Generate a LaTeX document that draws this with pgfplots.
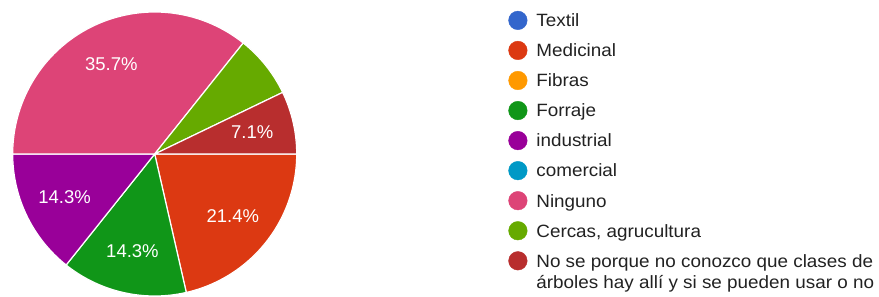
\documentclass[border=0pt]{standalone}
\usepackage{fontspec}
\setmainfont{Liberation Sans}
\newfontfamily\legfam[FakeStretch=1.06]{Liberation Sans}
\usepackage{pgfplots}
\usepackage{pgfplotstable}
\pgfplotsset{compat=1.18}
\definecolor{cTex}{HTML}{3366CC}
\definecolor{cMed}{HTML}{DC3912}
\definecolor{cFib}{HTML}{FF9900}
\definecolor{cFor}{HTML}{109618}
\definecolor{cInd}{HTML}{990099}
\definecolor{cCom}{HTML}{0099C6}
\definecolor{cNin}{HTML}{DD4477}
\definecolor{cCer}{HTML}{66AA00}
\definecolor{cNos}{HTML}{B82E2E}
\definecolor{txt}{HTML}{222222}

% slices in drawing order (clockwise from 3 o'clock)
\pgfplotstableread[col sep=comma]{
label,count,pct,show,color
Medicinal,3,21.4,1,cMed
Forraje,2,14.3,1,cFor
industrial,2,14.3,1,cInd
Ninguno,5,35.7,1,cNin
Cercas,1,7.1,0,cCer
Nose,1,7.1,1,cNos
}\piedata

\def\total{14}
\def\cx{154.7}
\def\cy{143}
\def\R{142}
\def\lr{100}
\newcommand\labelfont{\fontsize{18.5}{20}\selectfont}
\newcommand\legfont{\legfam\fontsize{17.8}{21.5}\selectfont}

\begin{document}
\begin{tikzpicture}
\begin{axis}[
  width=879pt, height=297pt, scale only axis,
  xmin=0, xmax=879, ymin=0, ymax=297,
  hide axis, clip=false,
  legend image code/.code={\fill[#1] (9.3pt,0pt) circle (9.3pt);},
  legend cell align=left,
  legend style={
    at={(axis cs:508.4,286.1)}, anchor=north west,
    draw=none, fill=none, inner sep=0pt, outer sep=0pt,
    font=\legfont, text=txt,
    row sep=11.05pt,
    /tikz/every odd column/.append style={column sep=9pt},
    nodes={inner sep=0pt, outer sep=0pt, text height=12.7pt, text depth=0pt},
  },
]
\pgfplotstablegetrowsof{\piedata}
\pgfmathtruncatemacro\lastrow{\pgfplotsretval-1}
\def\cum{0}
\pgfplotsforeachungrouped \i in {0,...,\lastrow}{%
  \pgfplotstablegetelem{\i}{count}\of\piedata \let\cnt\pgfplotsretval
  \pgfplotstablegetelem{\i}{pct}\of\piedata \let\pc\pgfplotsretval
  \pgfplotstablegetelem{\i}{show}\of\piedata \let\shw\pgfplotsretval
  \pgfplotstablegetelem{\i}{color}\of\piedata \let\col\pgfplotsretval
  \pgfmathsetmacro\aS{-360*\cum/\total}%
  \pgfmathsetmacro\aE{-360*(\cum+\cnt)/\total}%
  \pgfmathsetmacro\aM{(\aS+\aE)/2}%
  \pgfmathsetmacro\lx{\cx+\lr*cos(\aM)}%
  \pgfmathsetmacro\ly{\cy+\lr*sin(\aM)}%
  \edef\doslice{\noexpand\addplot[forget plot, fill=\col, draw=white, line width=1.2pt, line join=round, domain=\aE:\aS, samples=90] ({\cx+\R*cos(x)},{\cy+\R*sin(x)}) -- (axis cs:\cx,\cy) -- cycle;}%
  \doslice
  \ifnum\shw=1
    \edef\dolabel{\noexpand\node[text=white, font=\noexpand\labelfont] at (axis cs:\lx,\ly) {\pc\noexpand\%};}%
    \dolabel
  \fi
  \pgfmathsetmacro\cum{\cum+\cnt}%
}
\addlegendimage{cTex}
\addlegendimage{cMed}
\addlegendimage{cFib}
\addlegendimage{cFor}
\addlegendimage{cInd}
\addlegendimage{cCom}
\addlegendimage{cNin}
\addlegendimage{cCer}
\addlegendimage{cNos}
\legend{Textil, Medicinal, Fibras, Forraje, industrial, comercial, Ninguno, {Cercas, agrucultura}, {\begin{tabular}[t]{@{}l@{}}No se porque no conozco que clases de\\árboles hay allí y si se pueden usar o no\end{tabular}}}
\end{axis}
\pgfresetboundingbox
\path (current axis.south west) rectangle (current axis.north east);
\end{tikzpicture}
\end{document}
